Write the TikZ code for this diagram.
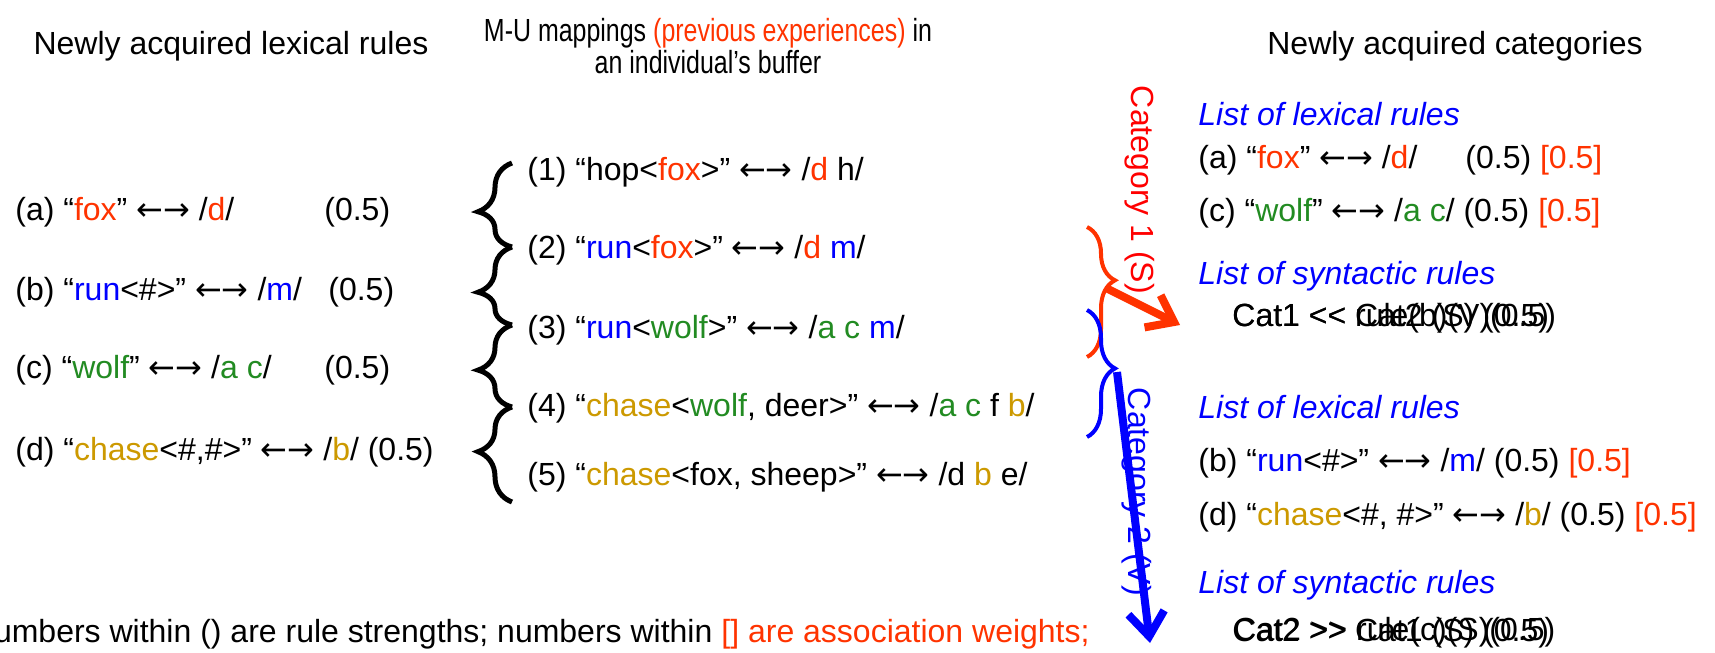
\documentclass[tikz,border=0pt]{standalone}
\usepackage{fontspec}
\setmainfont{Liberation Sans}
\newfontfamily\arrowfont{DejaVu Sans}
\usepackage{xcolor}
\usepackage{tikz}
\usetikzlibrary{arrows.meta, positioning, decorations.pathreplacing}

\definecolor{foxred}{RGB}{255,51,0}
\definecolor{runblue}{RGB}{0,0,255}
\definecolor{wolfgreen}{RGB}{34,139,34}
\definecolor{chasegold}{RGB}{204,153,0}
\newcommand{\cfox}[1]{\textcolor{foxred}{#1}}
\newcommand{\crun}[1]{\textcolor{runblue}{#1}}
\newcommand{\cwolf}[1]{\textcolor{wolfgreen}{#1}}
\newcommand{\cchase}[1]{\textcolor{chasegold}{#1}}
\newcommand{\lrarr}{{\arrowfont ←→}}

\begin{document}
\begin{tikzpicture}[
    x=0.5pt, y=-0.5pt,
    every node/.style={font=\fontsize{16}{17}\selectfont},
    txt/.style={anchor=west, inner sep=0pt, text height=12pt, text depth=3.5pt},
    head/.style={align=center, inner sep=0pt},
    listhd/.style={txt, text=runblue, font=\fontsize{16}{17}\selectfont\itshape},
    catlabel/.style={rotate=-90, inner sep=0pt},
    mubrace/.style={decorate, decoration={brace, amplitude=17pt, aspect=#1}, line width=2.5pt},
    catbrace/.style={decorate, decoration={brace, amplitude=14pt, aspect=#1}, line width=2pt},
    catarrow/.style={-{Straight Barb[length=12pt, width=18pt]}, line width=4pt}
]
    \useasboundingbox (0,0) rectangle (1715,653);

    % headers
    \node[head] (hdlex) at (231,46) {Newly acquired lexical rules};
    \node[head] (hdbuf) at (708,46) {\scalebox{0.78}[1]{M-U mappings \cfox{(previous experiences)} in}\\[-1pt]
        \scalebox{0.78}[1]{an individual’s buffer}};
    \node[head] (hdcat) at (1455,46) {Newly acquired categories};

    % newly acquired lexical rules
    \node[txt] (lexa) at (15,212) {(a) “\cfox{fox}” \lrarr{} /\cfox{d}/};
    \node[txt] (stra) at (324,212) {(0.5)};
    \node[txt] (lexb) at (15,292) {(b) “\crun{run}<\#>” \lrarr{} /\crun{m}/};
    \node[txt] (strb) at (328,292) {(0.5)};
    \node[txt] (lexc) at (15,370) {(c) “\cwolf{wolf}” \lrarr{} /\cwolf{a c}/};
    \node[txt] (strc) at (324,370) {(0.5)};
    \node[txt] (lexd) at (15,452) {(d) “\cchase{chase}<\#,\#>” \lrarr{} /\cchase{b}/ (0.5)};

    % buffer
    \node[txt] (mu1) at (527,172) {(1) “hop<\cfox{fox}>” \lrarr{} /\cfox{d} h/};
    \node[txt] (mu2) at (527,250) {(2) “\crun{run}<\cfox{fox}>” \lrarr{} /\cfox{d} \crun{m}/};
    \node[txt] (mu3) at (527,330) {(3) “\crun{run}<\cwolf{wolf}>” \lrarr{} /\cwolf{a c} \crun{m}/};
    \node[txt] (mu4) at (527,408) {(4) “\cchase{chase}<\cwolf{wolf}, deer>” \lrarr{} /\cwolf{a c} f \cchase{b}/};
    \node[txt] (mu5) at (527,477) {(5) “\cchase{chase}<fox, sheep>” \lrarr{} /d \cchase{b} e/};

    \draw[mubrace=0.42] (512,247) -- (512,163);
    \draw[mubrace=0.42] (512,325) -- (512,247);
    \draw[mubrace=0.45] (512,407) -- (512,325);
    \draw[mubrace=0.53] (512,502) -- (512,407);

    % categories
    \draw[catbrace=0.41, foxred] (1087,227) -- (1087,357);
    \draw[catbrace=0.46, runblue] (1087,310) -- (1087,437);
    \node[catlabel, text=red] (cat1lbl) at (1140,190) {Category 1 (S)};
    \node[catlabel, text=runblue] (cat2lbl) at (1137,492) {Category 2 (V)};

    \coordinate (c1tip) at (1106,288);
    \coordinate (c1end) at (1180,325);
    \coordinate (c2tip) at (1117,372);
    \coordinate (c2end) at (1150,643);
    \draw[catarrow, foxred] (c1tip) -- (c1end);
    \draw[catarrow, runblue] (c2tip) -- (c2end);

    \node[listhd] (lst1) at (1198,117) {List of lexical rules};
    \node[txt] (cata) at (1198,160) {(a) “\cfox{fox}” \lrarr{} /\cfox{d}/};
    \node[txt] (cataw) at (1465,160) {(0.5) \cfox{[0.5]}};
    \node[txt] (catc) at (1198,213) {(c) “\cwolf{wolf}” \lrarr{} /\cwolf{a c}/ (0.5) \cfox{[0.5]}};
    \node[listhd] (syn1) at (1198,276) {List of syntactic rules};
    \node[txt] (syn1a) at (1232,318) {Cat1 \mbox{<}\mbox{<} Cat2 (S) (0.5)};
    \node[txt] (syn1b) at (1232,318) {Cat1 \mbox{<}\mbox{<} rule(b)(V)(0.5)};

    \node[listhd] (lst2) at (1198,410) {List of lexical rules};
    \node[txt] (catb) at (1198,463) {(b) “\crun{run}<\#>” \lrarr{} /\crun{m}/ (0.5) \cfox{[0.5]}};
    \node[txt] (catd) at (1198,517) {(d) “\cchase{chase}<\#, \#>” \lrarr{} /\cchase{b}/ (0.5) \cfox{[0.5]}};
    \node[listhd] (syn2) at (1198,585) {List of syntactic rules};
    \node[txt] (syn2a) at (1232,633) {Cat2 \mbox{>}\mbox{>} Cat1 (S) (0.5)};
    \node[txt] (syn2b) at (1233,632) {Cat2 \mbox{>}\mbox{>} rule(c)(S)(0.5)};

    % note
    \node[txt, anchor=east] (note) at (1090,634) {Numbers within () are rule strengths; numbers within \cfox{[] are association weights;}};
\end{tikzpicture}
\end{document}
